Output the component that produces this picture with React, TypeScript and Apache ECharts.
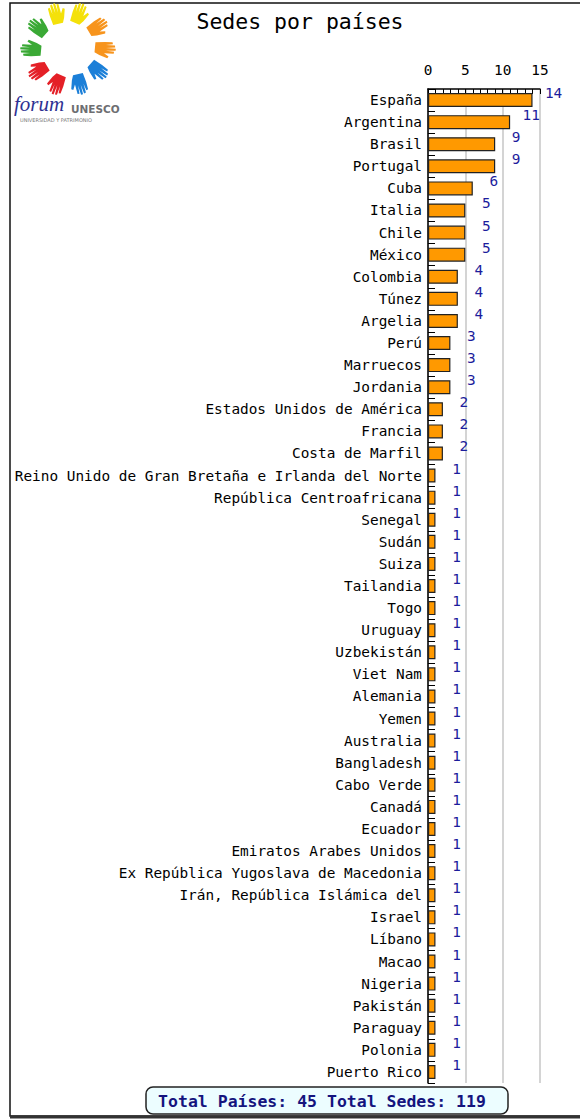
import React, { useEffect, useRef } from "react";
import * as echarts from "echarts";

const countries: string[] = [
  "España", "Argentina", "Brasil", "Portugal", "Cuba", "Italia", "Chile", "México",
  "Colombia", "Túnez", "Argelia", "Perú", "Marruecos", "Jordania",
  "Estados Unidos de América", "Francia", "Costa de Marfil",
  "Reino Unido de Gran Bretaña e Irlanda del Norte", "República Centroafricana",
  "Senegal", "Sudán", "Suiza", "Tailandia", "Togo", "Uruguay", "Uzbekistán",
  "Viet Nam", "Alemania", "Yemen", "Australia", "Bangladesh", "Cabo Verde",
  "Canadá", "Ecuador", "Emiratos Arabes Unidos", "Ex República Yugoslava de Macedonia",
  "Irán, República Islámica del", "Israel", "Líbano", "Macao", "Nigeria",
  "Pakistán", "Paraguay", "Polonia", "Puerto Rico",
];

const sedes: number[] = [
  14, 11, 9, 9, 6, 5, 5, 5, 4, 4, 4, 3, 3, 3, 2, 2, 2,
  1, 1, 1, 1, 1, 1, 1, 1, 1, 1, 1, 1, 1, 1, 1, 1, 1, 1, 1, 1, 1, 1, 1, 1, 1, 1, 1, 1,
];

const axisTicks: number[] = [0, 5, 10, 15];

const titleText = "Sedes por países";
const totalText = "Total Países: 45 Total Sedes: 119";

const handColors: string[] = [
  "#f4e10a", "#f4e10a", "#f7941d", "#f7941d", "#1b7fd8",
  "#1b7fd8", "#e42027", "#e42027", "#3aa935", "#3aa935",
];

const HAND_PATH =
  "M-7,9 L-7.5,-1 L-7,-9 L-5,-9.4 L-4.2,-2 L-3.8,-11.5 L-1.7,-11.8 L-1.1,-2 L-0.3,-12.4 L1.8,-12.2 L1.9,-2 L3,-10.6 L5,-10.2 L4.6,0 L8,-4.8 L9.8,-3.4 L6.4,5 L3.5,10 Z";

const MONO = "DejaVu Sans Mono";

export default function App() {
  const ref = useRef<HTMLDivElement>(null);

  useEffect(() => {
    if (!ref.current) return;
    try {
      echarts.graphic.registerShape("hand", echarts.graphic.extendPath(HAND_PATH, {}) as any);
    } catch (e) {
      /* already registered */
    }
    const chart = echarts.init(ref.current, null, { renderer: "svg" });

    const cx = 68;
    const cy = 49;
    const r = 36;
    const hands = handColors.map((c, i) => {
      const ang = ((-108 + i * 36) * Math.PI) / 180;
      return {
        type: "hand",
        x: cx + r * Math.cos(ang),
        y: cy + r * Math.sin(ang),
        rotation: -(ang + Math.PI / 2),
        scaleX: 0.95,
        scaleY: 0.95,
        style: { fill: c },
        silent: true,
      };
    });

    chart.setOption({
      animation: false,
      grid: { left: 428, right: 40, top: 89, bottom: 36, containLabel: false },
      xAxis: {
        type: "value",
        position: "top",
        min: axisTicks[0],
        max: axisTicks[axisTicks.length - 1],
        interval: axisTicks[1] - axisTicks[0],
        axisLine: { show: true, lineStyle: { color: "#000", width: 1.5 } },
        axisTick: { show: true, inside: true, length: 5, lineStyle: { color: "#000" } },
        minorTick: { show: true, splitNumber: 5, length: 5, lineStyle: { color: "#000" } },
        splitLine: { show: true, lineStyle: { color: "#d4d4d4", width: 2 } },
        axisLabel: { margin: 12, fontSize: 14.4, color: "#000", fontFamily: MONO },
      },
      yAxis: {
        type: "category",
        inverse: true,
        data: countries,
        axisLine: { show: true, lineStyle: { color: "#000", width: 1.5 } },
        axisTick: { show: true, inside: true, length: 7, lineStyle: { color: "#000" } },
        axisLabel: { interval: 0, margin: 6, fontSize: 14.4, color: "#000", fontFamily: MONO },
        splitLine: { show: false },
      },
      series: [
        {
          type: "bar",
          data: sedes,
          barWidth: 14,
          itemStyle: {
            color: "#ff9900",
            borderColor: "#222",
            borderWidth: 1.2,
          },
          label: {
            show: true,
            position: "right",
            distance: 21,
            align: "center",
            offset: [0, -7],
            color: "#1c1c9c",
            fontSize: 14.4,
            fontFamily: MONO,
          },
        },
      ],
      graphic: [
        {
          type: "rect",
          shape: { x: 10, y: 3, width: 600, height: 1113 },
          style: { fill: "none", stroke: "#111", lineWidth: 1.5 },
          silent: true,
        },
        {
          type: "line",
          shape: { x1: 10, y1: 1117, x2: 600, y2: 1117 },
          style: { stroke: "#333", lineWidth: 3 },
          silent: true,
        },
        ...hands,
        {
          type: "text",
          x: 14,
          y: 114,
          style: {
            text: "forum",
            font: "italic 21px 'Liberation Serif'",
            fill: "#2e3192",
            textVerticalAlign: "bottom",
          },
          silent: true,
        },
        {
          type: "text",
          x: 71,
          y: 114,
          style: {
            text: "UNESCO",
            font: "bold 10.5px 'DejaVu Sans'",
            fill: "#6d6e71",
            textVerticalAlign: "bottom",
          },
          silent: true,
        },
        {
          type: "text",
          x: 20,
          y: 120,
          style: {
            text: "UNIVERSIDAD Y PATRIMONIO",
            font: "5px 'DejaVu Sans'",
            fill: "#777",
            textVerticalAlign: "middle",
          },
          silent: true,
        },
        {
          type: "text",
          x: 300,
          y: 21,
          style: {
            text: titleText,
            font: `21.5px '${MONO}'`,
            fill: "#000",
            textAlign: "center",
            textVerticalAlign: "middle",
          },
          silent: true,
        },
        {
          type: "rect",
          shape: { x: 146, y: 1087, width: 362, height: 27, r: 7 },
          style: { fill: "#ecfdff", stroke: "#222", lineWidth: 1.5 },
          silent: true,
        },
        {
          type: "text",
          x: 322,
          y: 1101,
          style: {
            text: totalText,
            font: `bold 16.5px '${MONO}'`,
            fill: "#14147e",
            textAlign: "center",
            textVerticalAlign: "middle",
          },
          silent: true,
        },
      ],
    });

    return () => {
      chart.dispose();
    };
  }, []);

  return (
    <div
      ref={ref}
      style={{ position: "absolute", left: 0, top: 0, width: "580px", height: "1119px", background: "#fff" }}
    />
  );
}
